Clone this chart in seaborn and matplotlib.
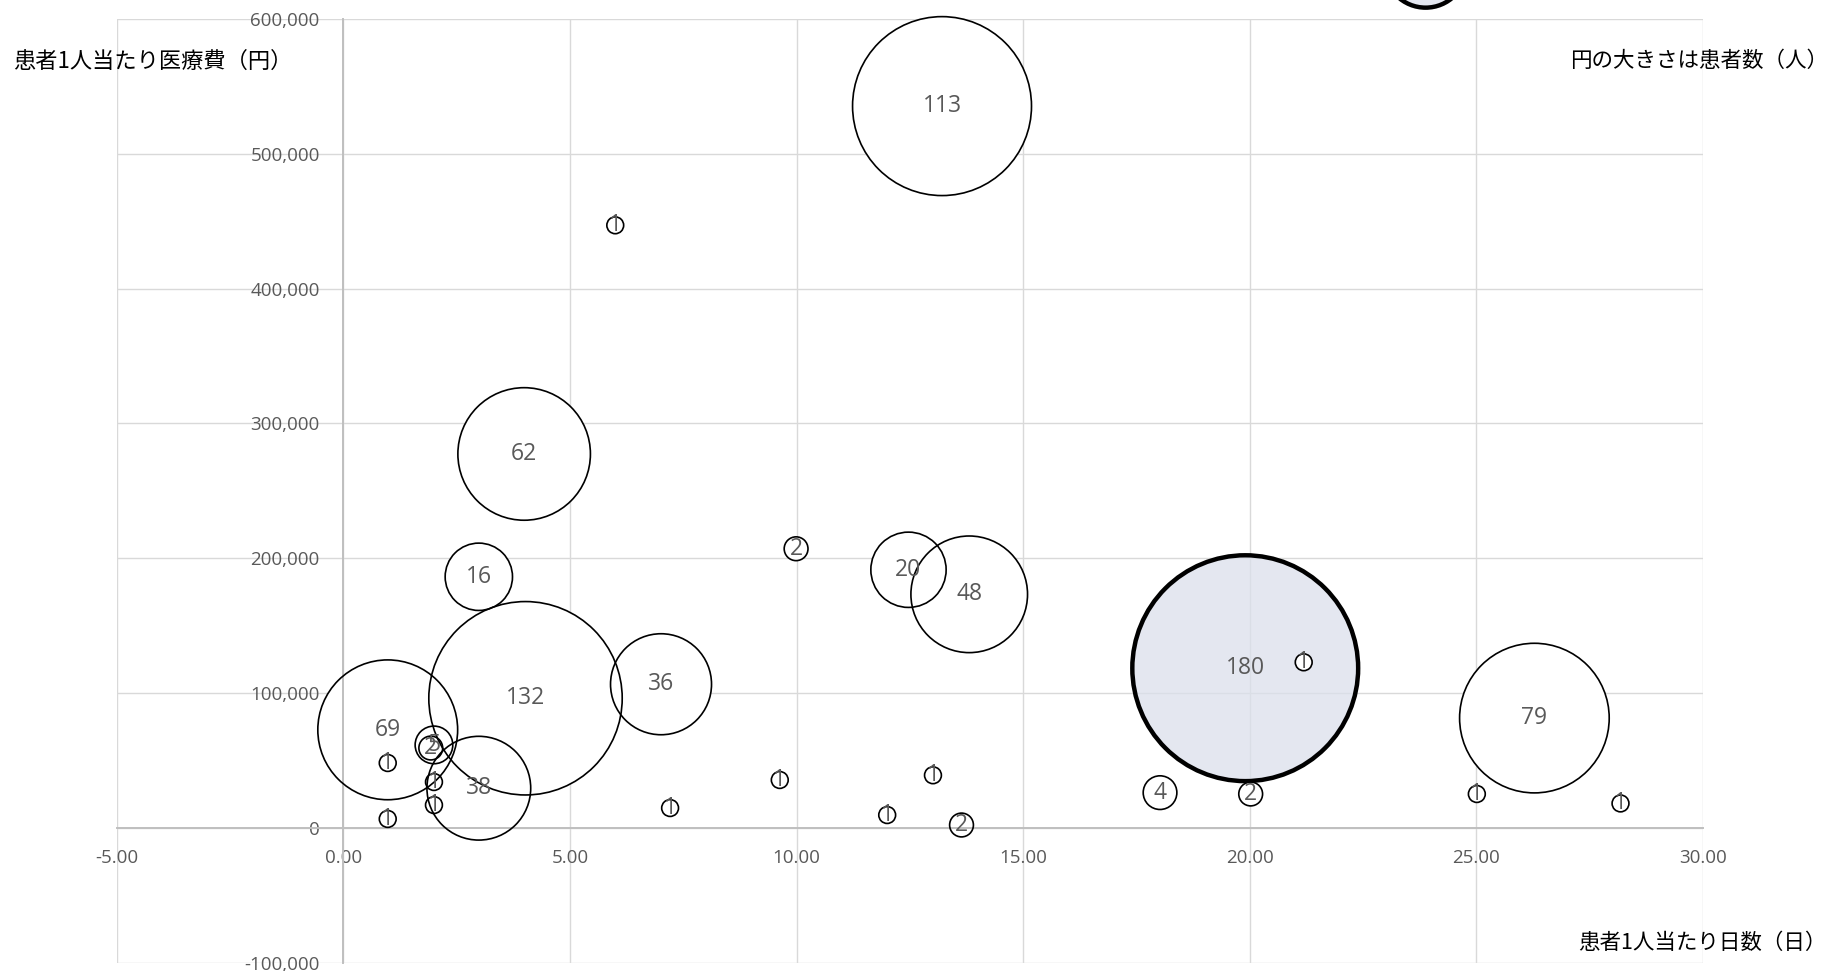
"""
Bubble chart: days per patient vs cost per patient, bubble area = patient count.
"""

import pandas as pd
import matplotlib
matplotlib.use("Agg")
import matplotlib.pyplot as plt
from matplotlib.ticker import FuncFormatter, MultipleLocator
import seaborn as sns

# values
days = [13.21, 6.00, 3.99, 2.99, 9.99, 12.47, 13.81, 19.90, 21.19, 26.28,
        25.01, 28.18, 18.02, 20.02, 13.64, 12.00, 13.01, 9.63, 7.21, 7.01,
        4.02, 0.98, 2.99, 0.98, 0.98, 2.00, 1.93, 2.00, 2.00, 23.88]
cost = [535400, 447000, 277400, 186300, 207100, 191500, 173300, 118500, 122900, 81500,
        25200, 18200, 26200, 25200, 2200, 9600, 39100, 35600, 14800, 106600,
        96200, 72800, 29500, 48200, 6700, 61600, 59300, 34100, 17000, 639000]
patients = [113, 1, 62, 16, 2, 20, 48, 180, 1, 79,
            1, 1, 4, 2, 2, 1, 1, 1, 1, 36,
            132, 69, 38, 1, 1, 5, 2, 1, 1, 24]
highlight = [False] * 7 + [True] + [False] * 21 + [True]

X_TICKS_STEP = 5
Y_TICKS_STEP = 100000
X_LIM = (-5, 30)
Y_LIM = (-100000, 600000)

df = pd.DataFrame({"days": days, "cost": cost, "patients": patients, "highlight": highlight})

sns.set_theme(style="white")
plt.rcParams["font.family"] = ["Open Sans", "Noto Sans CJK JP", "DejaVu Sans"]
JP = ["Noto Sans CJK JP", "DejaVu Sans"]

W, H = 1831, 971
fig = plt.figure(figsize=(W / 100, H / 100), dpi=100)
ax = fig.add_axes([116.7 / W, (H - 962.8) / H, (1703 - 116.7) / W, (962.8 - 19) / H])

# marker area (pt^2) for one patient; area grows linearly with count
S1 = 146.9
size_kw = dict(size="patients", sizes=(S1, S1 * 180), size_norm=(1, 180), legend=False)

normal = df[~df.highlight].sort_values("patients", ascending=False)
hl = df[df.highlight]

# highlighted bubbles (semi-transparent fill, heavy ring)
sns.scatterplot(data=hl, x="days", y="cost", color="black", edgecolor="black",
                linewidth=3.2, zorder=2.8, ax=ax, **size_kw)
ax.collections[-1].set_facecolor((0.86, 0.88, 0.92, 0.75))

# white fill first, then outlines so overlapping rings stay visible
sns.scatterplot(data=normal, x="days", y="cost", color="white", linewidth=0,
                zorder=3, ax=ax, **size_kw)
sns.scatterplot(data=normal, x="days", y="cost", color="white", edgecolor="black",
                linewidth=1.2, zorder=4, ax=ax, **size_kw)
ax.collections[-1].set_facecolor("none")

for coll in ax.collections:
    coll.set_clip_on(False)

for x, y, n in zip(df.days, df.cost, df.patients):
    if Y_LIM[0] <= y <= Y_LIM[1]:
        ax.text(x, y, str(n), ha="center", va="center", fontsize=16.5,
                color="#595959", zorder=6)

ax.set_xlim(*X_LIM)
ax.set_ylim(*Y_LIM)
ax.xaxis.set_major_locator(MultipleLocator(X_TICKS_STEP))
ax.yaxis.set_major_locator(MultipleLocator(Y_TICKS_STEP))
ax.xaxis.set_major_formatter(FuncFormatter(lambda v, p: f"{v:.2f}"))
ax.yaxis.set_major_formatter(FuncFormatter(lambda v, p: f"{v:,.0f}"))
ax.set_xlabel("")
ax.set_ylabel("")

ax.grid(True, color="#D9D9D9", linewidth=1.0)
ax.set_axisbelow(True)
for line in ax.get_xgridlines() + ax.get_ygridlines():
    line.set_clip_on(False)

for side in ["top", "right"]:
    ax.spines[side].set_visible(False)
for side in ["left", "bottom"]:
    ax.spines[side].set_position(("data", 0))
    ax.spines[side].set_color("#BFBFBF")
    ax.spines[side].set_linewidth(1.4)
    ax.spines[side].set_zorder(3.5)

ax.tick_params(axis="both", length=0, labelsize=13.5, labelcolor="#595959")
ax.tick_params(axis="x", pad=15)
ax.tick_params(axis="y", pad=17)

fig.text(13 / W, 1 - 61 / H, "患者1人当たり医療費（円）", ha="left", va="center",
         fontsize=16, color="black", family=JP)
fig.text(1570 / W, 1 - 61 / H, "円の大きさは患者数（人）", ha="left", va="center",
         fontsize=15.5, color="black", family=JP)
fig.text(1578 / W, 1 - 943 / H, "患者1人当たり日数（日）", ha="left", va="center",
         fontsize=15.5, color="black", family=JP)

fig.savefig("out.png", dpi=100)
